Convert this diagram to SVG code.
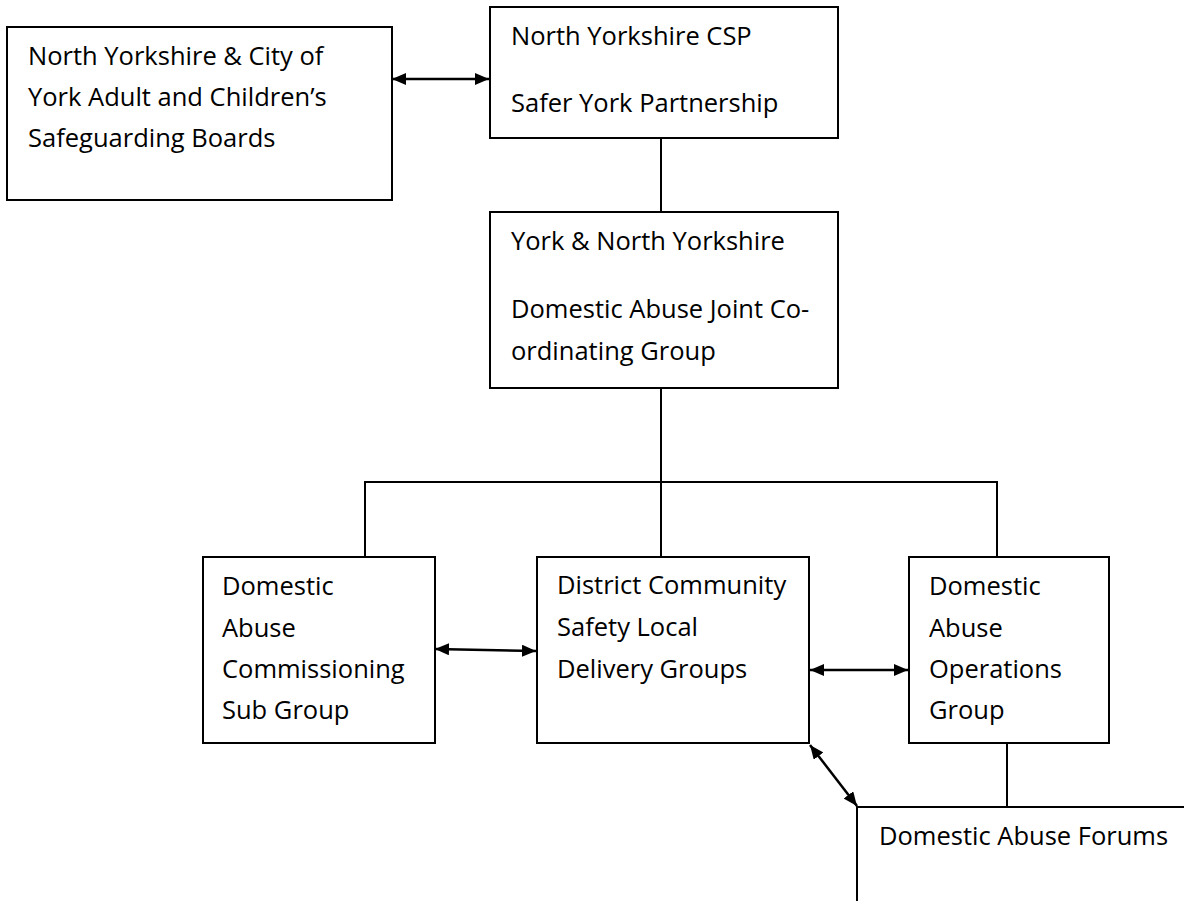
<svg xmlns="http://www.w3.org/2000/svg" width="1184" height="901" viewBox="0 0 1184 901">
<defs>
<marker id="ah" viewBox="0 0 14 12" refX="14" refY="6" markerWidth="14" markerHeight="12" markerUnits="userSpaceOnUse" orient="auto-start-reverse">
<path d="M0,0 L14,6 L0,12 z" fill="#000"/>
</marker>
<style>
.box{fill:#fff;stroke:#000;stroke-width:2}
.t{font-family:"Open Sans","Noto Sans","Liberation Sans",sans-serif;font-size:25.5px;fill:#000}
.ln{fill:none;stroke:#000;stroke-width:2}
.ar{fill:none;stroke:#000;stroke-width:2.5;marker-start:url(#ah);marker-end:url(#ah)}
</style>
</defs>
<rect width="1184" height="901" fill="#fff"/>
<g id="connectors">
<line class="ar" x1="392" y1="79" x2="489" y2="79"/>
<line class="ln" x1="661" y1="138" x2="661" y2="212"/>
<line class="ln" x1="661" y1="388" x2="661" y2="557"/>
<polyline class="ln" points="365,557 365,482 997,482 997,557"/>
<line class="ar" x1="435" y1="649" x2="536" y2="651"/>
<line class="ar" x1="810" y1="670" x2="908" y2="670"/>
<line class="ar" x1="810" y1="745" x2="857" y2="806"/>
<line class="ln" x1="1007" y1="743" x2="1007" y2="807"/>
</g>
<g id="safeguarding">
<rect class="box" x="7" y="27" width="385" height="173"/>
<text class="t" x="28" y="65">North Yorkshire &amp; City of</text>
<text class="t" x="28" y="106">York Adult and Children’s</text>
<text class="t" x="28" y="147">Safeguarding Boards</text>
</g>
<g id="csp">
<rect class="box" x="490" y="7" width="348" height="131"/>
<text class="t" x="511" y="45">North Yorkshire CSP</text>
<text class="t" x="511" y="112">Safer York Partnership</text>
</g>
<g id="joint">
<rect class="box" x="490" y="212" width="348" height="176"/>
<text class="t" x="511" y="250">York &amp; North Yorkshire</text>
<text class="t" x="511" y="318">Domestic Abuse Joint Co-</text>
<text class="t" x="511" y="360">ordinating Group</text>
</g>
<g id="commissioning">
<rect class="box" x="203" y="557" width="232" height="186"/>
<text class="t" x="222" y="595">Domestic</text>
<text class="t" x="222" y="637">Abuse</text>
<text class="t" x="222" y="678">Commissioning</text>
<text class="t" x="222" y="719">Sub Group</text>
</g>
<g id="district">
<rect class="box" x="537" y="557" width="272" height="186"/>
<text class="t" x="557" y="594">District Community</text>
<text class="t" x="557" y="636">Safety Local</text>
<text class="t" x="557" y="678">Delivery Groups</text>
</g>
<g id="operations">
<rect class="box" x="909" y="557" width="200" height="186"/>
<text class="t" x="929" y="595">Domestic</text>
<text class="t" x="929" y="637">Abuse</text>
<text class="t" x="929" y="678">Operations</text>
<text class="t" x="929" y="719">Group</text>
</g>
<g id="forums">
<polyline class="ln" points="1184,807 857,807 857,901"/>
<text class="t" x="879" y="845">Domestic Abuse Forums</text>
</g>
</svg>
